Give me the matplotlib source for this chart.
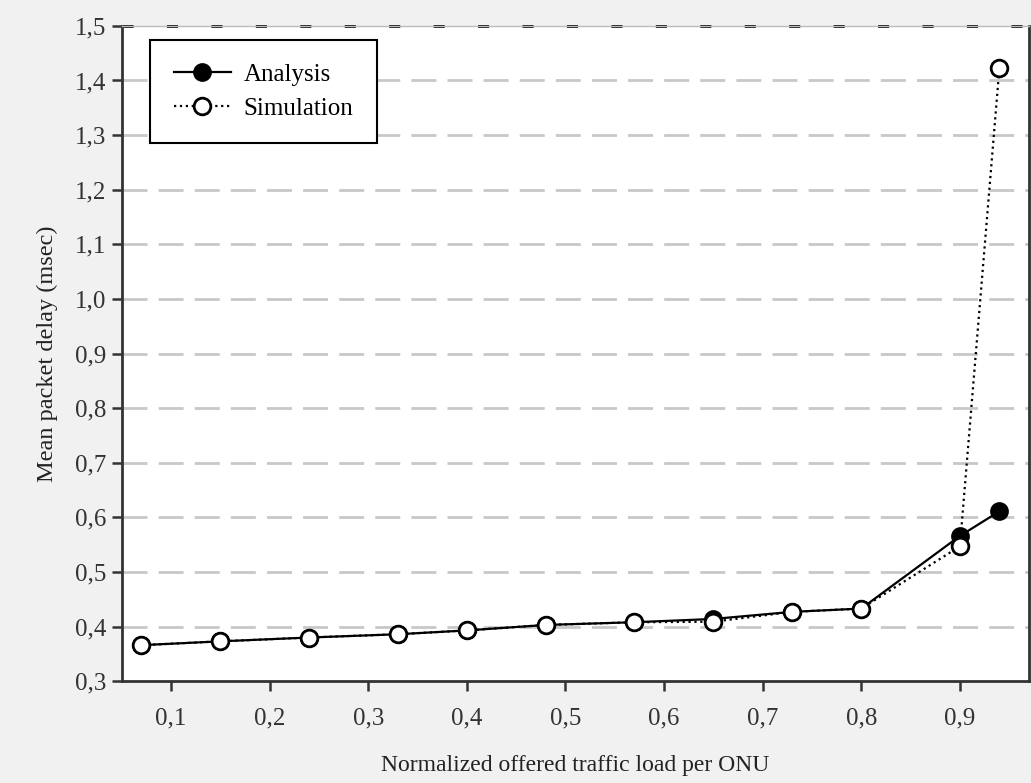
import numpy as np
import matplotlib.pyplot as plt

# Data
load = [0.07, 0.15, 0.24, 0.33, 0.40, 0.48, 0.57, 0.65, 0.73, 0.80, 0.90, 0.94]
analysis = [0.366, 0.373, 0.380, 0.386, 0.393, 0.403, 0.408, 0.414, 0.427, 0.433, 0.566, 0.611]
simulation = [0.366, 0.373, 0.380, 0.386, 0.393, 0.403, 0.408, 0.409, 0.427, 0.433, 0.547, 1.422]

xticks = [0.1, 0.2, 0.3, 0.4, 0.5, 0.6, 0.7, 0.8, 0.9]
yticks = [0.3, 0.4, 0.5, 0.6, 0.7, 0.8, 0.9, 1.0, 1.1, 1.2, 1.3, 1.4, 1.5]

plt.rcParams['font.family'] = ['Liberation Serif', 'DejaVu Serif']

fig = plt.figure(figsize=(10.31, 7.83), dpi=100, facecolor='#f1f1f1')
ax = fig.add_axes([0.118, 0.130, 0.880, 0.837])
ax.set_facecolor('white')

# grid
for y in yticks[1:-1]:
    ax.axhline(y, color='#c8c8c8', lw=2, ls=(0, (9, 4)), zorder=0)
ax.axhline(1.5, color='black', lw=2, ls=(0, (4, 12)), zorder=1, clip_on=False)

ax.plot(load, analysis, '-', color='black', lw=1.6, marker='o', ms=12,
        mfc='black', mec='black', mew=1.5, label='Analysis', zorder=3)
ax.plot(load, simulation, ':', color='black', lw=1.6, marker='o', ms=12,
        mfc='white', mec='black', mew=2, label='Simulation', zorder=4)

ax.set_xlim(0.05, 0.97)
ax.set_ylim(0.3, 1.5)
ax.set_xticks(xticks)
ax.set_yticks(yticks)
ax.set_xticklabels([f'{v:.1f}'.replace('.', ',') for v in xticks])
ax.set_yticklabels([f'{v:.1f}'.replace('.', ',') for v in yticks])
ax.tick_params(axis='both', direction='out', length=7, width=1.8, labelsize=18,
               color='#333333', labelcolor='#333333', pad=4)
ax.tick_params(axis='x', pad=12)

for side in ['left', 'bottom', 'right']:
    ax.spines[side].set_linewidth(2)
    ax.spines[side].set_color('#333333')
ax.spines['top'].set_color('#bbbbbb')
ax.spines['top'].set_linewidth(1)

ax.set_xlabel('Normalized offered traffic load per ONU', fontsize=17, color='#222222', labelpad=18)
ax.set_ylabel('Mean packet delay (msec)', fontsize=17.5, color='#222222', labelpad=12)

leg = ax.legend(loc='upper left', bbox_to_anchor=(0.031, 0.979), borderaxespad=0,
                fontsize=18, fancybox=False, framealpha=1, edgecolor='black',
                handlelength=2.3, handletextpad=0.5, borderpad=0.95, labelspacing=0.45)
leg.get_frame().set_linewidth(1.5)

fig.savefig('out.png', dpi=100, facecolor=fig.get_facecolor())
